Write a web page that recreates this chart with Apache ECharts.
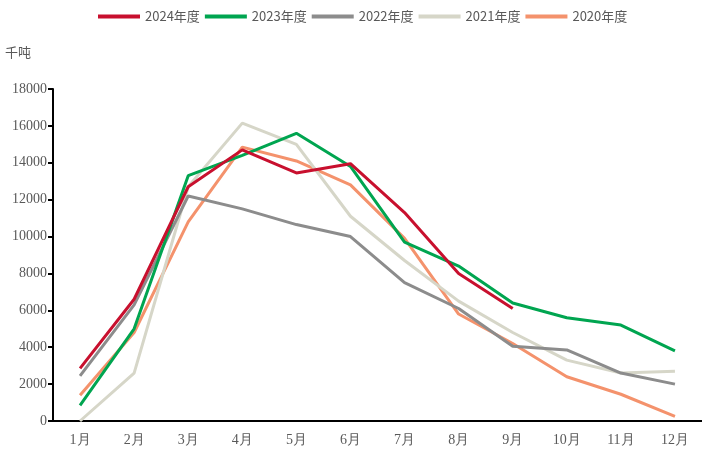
<!DOCTYPE html>
<html>
<head>
<meta charset="utf-8">
<script src="https://cdn.jsdelivr.net/npm/echarts@6/dist/echarts.min.js"></script>
<style>
  html, body { margin: 0; padding: 0; background: #fff; }
  #main { width: 702px; height: 449px; }
</style>
</head>
<body>
<div id="main"></div>
<script>
var months = ["1月", "2月", "3月", "4月", "5月", "6月", "7月", "8月", "9月", "10月", "11月", "12月"];
var y2024 = [2850, 6600, 12700, 14700, 13450, 13950, 11300, 8000, 6100];
var y2023 = [850, 5000, 13300, 14400, 15600, 13800, 9700, 8400, 6400, 5600, 5200, 3800];
var y2022 = [2450, 6300, 12200, 11500, 10650, 10000, 7500, 6100, 4050, 3850, 2600, 2000];
var y2021 = [0, 2600, 12700, 16150, 15000, 11100, 8700, 6500, 4800, 3300, 2600, 2700];
var y2020 = [1400, 4800, 10800, 14850, 14100, 12800, 9900, 5800, 4200, 2400, 1450, 250];

var chart = echarts.init(document.getElementById("main"));

function line(name, data, color) {
  return {
    name: name,
    type: "line",
    data: data,
    symbol: "none",
    smooth: false,
    lineStyle: { color: color, width: 3 },
    itemStyle: { color: color }
  };
}

var option = {
  animation: false,
  legend: {
    top: 5,
    left: 93,
    itemWidth: 42,
    itemHeight: 4,
    itemGap: 5,
    icon: "rect",
    textStyle: { color: "#595959", fontSize: 13, fontFamily: "Noto Sans CJK SC" },
    data: ["2024年度", "2023年度", "2022年度", "2021年度", "2020年度"]
  },
  grid: { left: 53, right: -9, top: 89, bottom: 28 },
  xAxis: {
    type: "category",
    data: months,
    boundaryGap: true,
    axisLine: { lineStyle: { color: "#000", width: 2 } },
    axisTick: { show: false },
    axisLabel: { color: "#595959", fontSize: 14, fontFamily: "Liberation Serif", margin: 12 }
  },
  yAxis: {
    type: "value",
    name: "千吨",
    nameLocation: "end",
    nameGap: 30,
    nameTextStyle: { color: "#595959", fontSize: 13, fontFamily: "Noto Sans CJK SC", align: "right", padding: [0, 22, 0, 0] },
    min: 0,
    max: 18000,
    interval: 2000,
    splitLine: { show: false },
    axisLine: { show: true, lineStyle: { color: "#000", width: 2 } },
    axisTick: { show: true, length: 5, lineStyle: { color: "#000", width: 2 } },
    axisLabel: {
      color: "#595959", fontSize: 14, fontFamily: "Liberation Serif", margin: 6,
      formatter: function (v) { return String(v); }
    }
  },
  series: [
    line("2020年度", y2020, "#f4926c"),
    line("2021年度", y2021, "#d6d6c8"),
    line("2022年度", y2022, "#8c8c8c"),
    line("2023年度", y2023, "#00a550"),
    line("2024年度", y2024, "#c8102e")
  ]
};

chart.setOption(option);
window.addEventListener("resize", function () { chart.resize(); });
</script>
</body>
</html>
